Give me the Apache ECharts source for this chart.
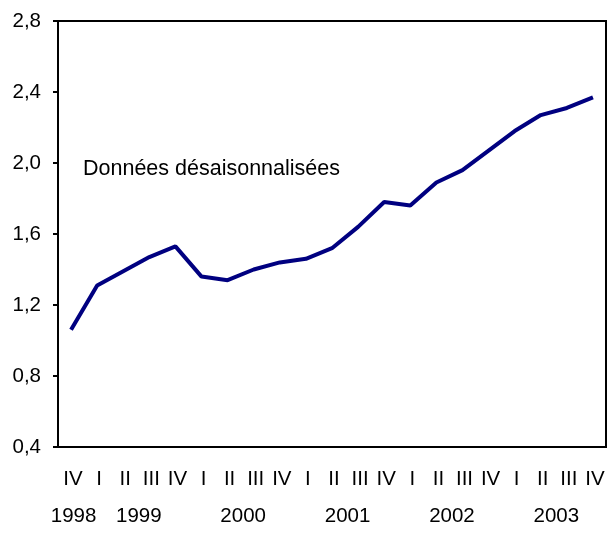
<!DOCTYPE html>
<html>
<head>
<meta charset="utf-8">
<script src="https://cdn.jsdelivr.net/npm/echarts@6/dist/echarts.min.js"></script>
<style>html,body{margin:0;padding:0;background:#fff}#c{width:615px;height:541px}</style>
</head>
<body>
<div id="c"></div>
<script>
const quarters = ['IV','I','II','III','IV','I','II','III','IV','I','II','III','IV','I','II','III','IV','I','II','III','IV'];
const values = [1.06,1.31,1.39,1.47,1.53,1.36,1.34,1.40,1.44,1.46,1.52,1.64,1.78,1.76,1.89,1.96,2.07,2.18,2.27,2.31,2.37];
// year labels and their position in category units (centre of each year's quarters)
const yearLabels = ['1998','1999','2000','2001','2002','2003'];
const yearPositions = [0.5,3,7,11,15,19];
const yTicks = {min:0.4, max:2.8, interval:0.4};
const annotation = 'Données désaisonnalisées';

const font = '"Liberation Sans", Arial, sans-serif';
const chart = echarts.init(document.getElementById('c'), null, {renderer:'canvas'});
chart.setOption({
  animation:false,
  backgroundColor:'#fff',
  title:{text:annotation,left:78,top:153,textStyle:{fontFamily:font,fontSize:21.5,fontWeight:'normal',color:'#000'}},
  grid:{left:58,right:9,top:21,bottom:94,show:true,borderColor:'#000',borderWidth:2,backgroundColor:'transparent'},
  xAxis:[{
    type:'category',data:quarters,boundaryGap:true,
    axisLine:{lineStyle:{color:'#000',width:2}},
    axisTick:{inside:true,length:5,lineStyle:{color:'#000',width:2}},
    axisLabel:{color:'#000',fontFamily:font,fontSize:20.5,margin:22,interval:0,padding:[0,0,0,4]},
    splitLine:{show:false}
  },{
    type:'value',min:0,max:quarters.length,interval:0.5,position:'bottom',
    axisLine:{show:false},axisTick:{show:false},splitLine:{show:false},
    axisLabel:{color:'#000',fontFamily:font,fontSize:20.5,margin:59,padding:[0,0,0,5],
      formatter:function(v){const i=yearPositions.findIndex(p=>Math.abs(p-v)<1e-6);return i>=0?yearLabels[i]:'';}}
  }],
  yAxis:{
    type:'value',min:yTicks.min,max:yTicks.max,interval:yTicks.interval,
    axisLine:{show:true,lineStyle:{color:'#000',width:2}},
    axisTick:{show:true,inside:false,length:5,lineStyle:{color:'#000',width:2}},
    axisLabel:{color:'#000',fontFamily:font,fontSize:20.5,margin:17,formatter:v=>v.toFixed(1).replace('.',',')},
    splitLine:{show:false}
  },
  series:[{
    type:'line',xAxisIndex:0,data:values,symbol:'none',
    lineStyle:{color:'#000080',width:4}
  }]
});
</script>
</body>
</html>
